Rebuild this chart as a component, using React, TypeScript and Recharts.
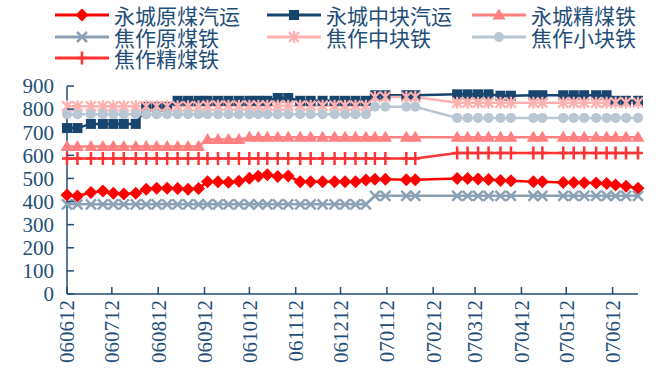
import React from "react";
import { LineChart, Line, XAxis, YAxis, Legend } from "recharts";

const NAVY = "#1F4E79";

// sample dates (yyMMdd)
const dates = [
  "060612", "060619", "060628", "060706", "060713", "060720", "060728",
  "060804", "060811", "060818", "060825", "060901", "060908", "060914",
  "060921", "060928", "061005", "061012", "061018", "061024", "061031",
  "061107", "061115", "061122", "061130", "061208", "061215", "061222",
  "061229", "070104", "070111", "070125", "070131", "070228", "070307",
  "070314", "070321", "070329", "070405", "070420", "070426", "070510",
  "070517", "070524", "070601", "070608", "070614", "070621", "070629",
];

const xTickLabels = [
  "060612", "060712", "060812", "060912", "061012", "061112", "061212",
  "070112", "070212", "070312", "070412", "070512", "070612",
];
const yTicks = [0, 100, 200, 300, 400, 500, 600, 700, 800, 900];

// 永城原煤汽运
const ycYuanMei = [
  428, 424, 439, 446, 436, 433, 436, 453, 458, 458, 456, 453, 456, 486, 486,
  483, 488, 501, 510, 516, 508, 511, 486, 486, 486, 486, 486, 486, 493, 496,
  496, 494, 494, 500, 500, 498, 495, 491, 490, 486, 486, 482, 482, 481, 480,
  478, 472, 466, 458,
];
// 永城中块汽运
const ycZhongKuai = [
  718, 718, 736, 736, 736, 736, 736, 810, 810, 810, 836, 836, 836, 836, 836,
  836, 836, 836, 836, 836, 848, 848, 836, 836, 836, 836, 836, 836, 836, 860,
  860, 860, 860, 864, 864, 864, 864, 858, 858, 860, 860, 860, 860, 860, 860,
  860, 836, 836, 836,
];
// 永城精煤铁
const ycJingMei = [
  638, 638, 638, 638, 638, 638, 638, 638, 638, 638, 638, 638, 638, 668, 668,
  668, 668, 678, 678, 678, 678, 678, 678, 678, 678, 678, 678, 678, 678, 678,
  678, 678, 678, 678, 678, 678, 678, 678, 678, 678, 678, 678, 678, 678, 678,
  678, 678, 678, 678,
];
// 焦作原煤铁
const jzYuanMei = [
  388, 388, 388, 388, 388, 388, 388, 388, 388, 388, 388, 388, 388, 388, 388,
  388, 388, 388, 388, 388, 388, 388, 388, 388, 388, 388, 388, 388, 388, 425,
  425, 425, 425, 425, 425, 425, 425, 425, 425, 425, 425, 425, 425, 425, 425,
  425, 425, 425, 425,
];
// 焦作中块铁
const jzZhongKuai = [
  812, 812, 812, 812, 812, 812, 812, 812, 812, 812, 812, 812, 812, 815, 815,
  815, 815, 815, 815, 815, 815, 815, 815, 815, 815, 815, 815, 815, 815, 852,
  852, 852, 852, 828, 828, 828, 828, 828, 828, 828, 828, 828, 828, 828, 828,
  828, 828, 828, 828,
];
// 焦作小块铁
const jzXiaoKuai = [
  778, 778, 778, 778, 778, 778, 778, 778, 778, 778, 778, 778, 778, 778, 778,
  778, 778, 778, 778, 778, 778, 778, 778, 778, 778, 778, 778, 778, 778, 810,
  810, 810, 810, 762, 762, 762, 762, 762, 762, 762, 762, 762, 762, 762, 762,
  762, 762, 762, 762,
];
// 焦作精煤铁
const jzJingMei = [
  586, 586, 586, 586, 586, 586, 586, 586, 586, 586, 586, 586, 586, 586, 586,
  586, 586, 586, 586, 586, 586, 586, 586, 586, 586, 586, 586, 586, 586, 586,
  586, 586, 586, 610, 610, 610, 610, 610, 610, 610, 610, 610, 610, 610, 610,
  610, 610, 610, 610,
];

const toDay = (s: string) =>
  (Date.UTC(2000 + +s.slice(0, 2), +s.slice(2, 4) - 1, +s.slice(4, 6)) -
    Date.UTC(2006, 5, 12)) /
  86400000;

const series = [
  { key: "s0", name: "永城原煤汽运", values: ycYuanMei, color: "#FF0000", shape: "diamond" },
  { key: "s1", name: "永城中块汽运", values: ycZhongKuai, color: "#17456E", shape: "square" },
  { key: "s2", name: "永城精煤铁", values: ycJingMei, color: "#FF8080", shape: "triangle" },
  { key: "s3", name: "焦作原煤铁", values: jzYuanMei, color: "#8DA1B5", shape: "x" },
  { key: "s4", name: "焦作中块铁", values: jzZhongKuai, color: "#FFB0B0", shape: "star" },
  { key: "s5", name: "焦作小块铁", values: jzXiaoKuai, color: "#B9C6D3", shape: "circle" },
  { key: "s6", name: "焦作精煤铁", values: jzJingMei, color: "#FF3333", shape: "plus" },
];

const data = dates.map((d, i) => {
  const row: Record<string, number> = { t: toDay(d) };
  series.forEach((s) => (row[s.key] = s.values[i]));
  return row;
});

function Marker({ shape, color, cx, cy }: { shape: string; color: string; cx: number; cy: number }) {
  switch (shape) {
    case "diamond":
      return <path d={`M${cx},${cy - 6.5}L${cx + 6.5},${cy}L${cx},${cy + 6.5}L${cx - 6.5},${cy}Z`} fill={color} />;
    case "square":
      return <rect x={cx - 5} y={cy - 5} width={10} height={10} fill={color} />;
    case "triangle":
      return <path d={`M${cx},${cy - 6.5}L${cx + 6.5},${cy + 4.5}L${cx - 6.5},${cy + 4.5}Z`} fill={color} />;
    case "x":
      return (
        <path d={`M${cx - 5},${cy - 5}L${cx + 5},${cy + 5}M${cx - 5},${cy + 5}L${cx + 5},${cy - 5}`}
          stroke={color} strokeWidth={2.5} fill="none" />
      );
    case "star":
      return (
        <path d={`M${cx - 5},${cy - 5}L${cx + 5},${cy + 5}M${cx - 5},${cy + 5}L${cx + 5},${cy - 5}M${cx},${cy - 6}L${cx},${cy + 6}`}
          stroke={color} strokeWidth={2.2} fill="none" />
      );
    case "circle":
      return <circle cx={cx} cy={cy} r={5} fill={color} />;
    default:
      return (
        <path d={`M${cx},${cy - 6.5}L${cx},${cy + 6.5}M${cx - 5},${cy}L${cx + 5},${cy}`}
          stroke={color} strokeWidth={2.5} fill="none" />
      );
  }
}

const makeDot = (shape: string, color: string) => (p: any) => (
  <g key={`${shape}-${p.index}`}>
    <Marker shape={shape} color={color} cx={p.cx} cy={p.cy} />
  </g>
);

const legendCols = [55, 267, 472];
const legendRows = [15, 37, 58];

function LegendBox() {
  return (
    <div style={{ position: "relative", width: 664, height: 70 }}>
      {series.map((s, i) => {
        const left = legendCols[i % 3];
        const top = legendRows[Math.floor(i / 3)];
        return (
          <div key={s.key} style={{ position: "absolute", left, top: top - 10, height: 20, display: "flex", alignItems: "center" }}>
            <svg width={54} height={20} style={{ display: "block" }}>
              <line x1={0} x2={54} y1={10} y2={10} stroke={s.color} strokeWidth={3} />
              <Marker shape={s.shape} color={s.color} cx={27} cy={10} />
            </svg>
            <span style={{ display: "block", height: 20, marginLeft: 5, fontFamily: "'Noto Sans CJK SC', sans-serif", fontSize: 21, color: NAVY, lineHeight: "20px", whiteSpace: "nowrap" }}>
              {s.name}
            </span>
          </div>
        );
      })}
    </div>
  );
}

function YTick({ x, y, payload }: any) {
  return (
    <g>
      <line x1={x} x2={x + 7} y1={y} y2={y} stroke={NAVY} strokeWidth={1.5} />
      <text x={x - 13} y={y} dy="0.35em" textAnchor="end" fontFamily="'Liberation Serif', serif" fontSize={21} fill={NAVY}>
        {payload.value}
      </text>
    </g>
  );
}

function XTick({ x, y, payload }: any) {
  const label = xTickLabels.find((l) => toDay(l) === payload.value) ?? "";
  return (
    <g>
      <line x1={x} x2={x} y1={y} y2={y - 7} stroke={NAVY} strokeWidth={1.5} />
      <text x={x} y={y + 6} dy="0.35em" textAnchor="end" transform={`rotate(-90, ${x}, ${y + 6})`}
        fontFamily="'Liberation Serif', serif" fontSize={21} fill={NAVY}>
        {label}
      </text>
    </g>
  );
}

export default function App() {
  return (
    <div style={{ position: "absolute", left: 0, top: 0, width: 664, height: 376, background: "#fff" }}>
      <LineChart width={664} height={376} data={data} margin={{ top: 86, right: 26, bottom: 0, left: 0 }}>
        <XAxis
          dataKey="t"
          type="number"
          domain={[0, toDay(dates[dates.length - 1])]}
          ticks={xTickLabels.map(toDay)}
          interval={0}
          height={82}
          tickSize={0}
          tickMargin={0}
          tickLine={false}
          axisLine={{ stroke: NAVY, strokeWidth: 1.5 }}
          tick={<XTick />}
        />
        <YAxis
          domain={[0, 900]}
          ticks={yTicks}
          interval={0}
          width={67}
          tickSize={0}
          tickMargin={0}
          tickLine={false}
          axisLine={{ stroke: NAVY, strokeWidth: 1.5 }}
          tick={<YTick />}
        />
        <Legend
          verticalAlign="middle"
          align="center"
          layout="horizontal"
          wrapperStyle={{ top: 0, left: 0, width: 664, height: 70 }}
          content={() => <LegendBox />}
        />
        {series.map((s) => (
          <Line
            key={s.key}
            dataKey={s.key}
            name={s.name}
            stroke={s.color}
            strokeWidth={2.5}
            dot={makeDot(s.shape, s.color)}
            activeDot={false}
            isAnimationActive={false}
          />
        ))}
      </LineChart>
    </div>
  );
}
